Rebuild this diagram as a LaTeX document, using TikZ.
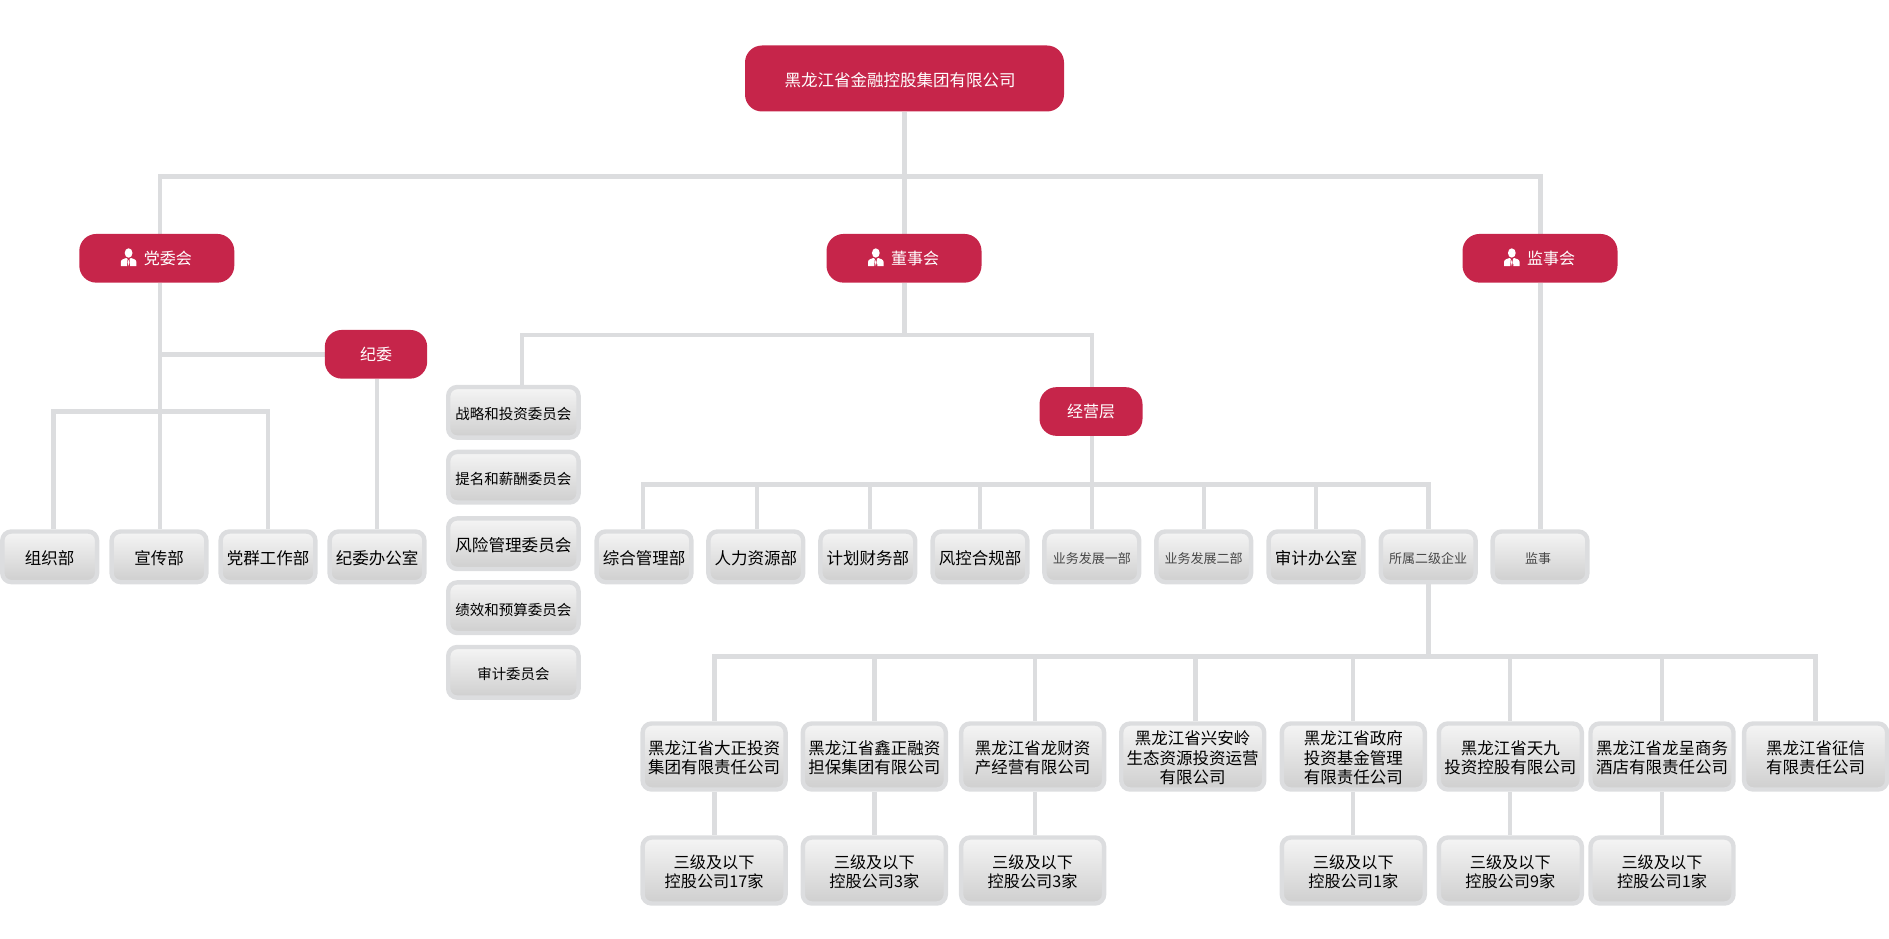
\documentclass[tikz,border=0pt]{standalone}
\usepackage{fontspec}
\setmainfont{Noto Sans CJK SC}
\usetikzlibrary{backgrounds}
\definecolor{redbox}{HTML}{C6254A}
\definecolor{linegray}{HTML}{DCDDDF}
\tikzset{
  x=1pt,y=-1pt,
  redbase/.style={fill=redbox,rounded corners=17pt,inner sep=0pt,text=white,font=\fontsize{16}{19.5}\selectfont,align=center,anchor=center},
  rootbox/.style={redbase,minimum width=319pt,minimum height=66pt,font=\fontsize{16.5}{19.5}\selectfont,text height=16pt,text depth=0pt},
  bigred/.style={redbase,minimum width=155pt,minimum height=48.7pt},
  smallred/.style={redbase,minimum width=102.4pt,minimum height=48.7pt},
  midred/.style={redbase,minimum width=103pt,minimum height=48.7pt},
  graybase/.style={draw=linegray,line width=4.4pt,top color=white!96!black,bottom color=white!81!black,rounded corners=9pt,inner sep=0pt,text=black,align=center,anchor=center,font=\fontsize{16.5}{19.5}\selectfont},
  deptbox/.style={graybase,minimum width=94.8pt,minimum height=50.6pt,text height=16pt,text depth=0pt},
  combox/.style={graybase,minimum width=130.4pt,minimum height=50.6pt,font=\fontsize{14.5}{18}\selectfont,text height=15pt,text depth=0pt},
  subbox/.style={graybase,minimum width=143pt,minimum height=66pt,font=\fontsize{16.5}{19.5}\selectfont},
  twolines/.style={text height=34.5pt,text depth=0pt},
  threelines/.style={text height=54pt,text depth=0pt},
  thirdbox/.style={subbox,twolines,font=\fontsize{16.2}{19.5}\selectfont},
  lite/.style={text=black!72,font=\fontsize{13}{16}\selectfont,text height=13pt,text depth=0pt},
  conn/.style={draw=linegray,line width=4.4pt},
  bus/.style={draw=linegray,line width=4.8pt,line cap=rect},
  person/.pic={\fill[white] (0,-5.3) ellipse (3.9 and 4.7);
    \fill[white] (-7.7,7.7) -- (-7.7,3.4) .. controls (-7.7,1) and (-4,0.4) .. (-2.4,-0.3) -- (-1,0.6) -- (-1.6,7.7) -- cycle;
    \fill[white] (7.7,7.7) -- (7.7,3.4) .. controls (7.7,1) and (4,0.4) .. (2.4,-0.3) -- (1,0.6) -- (1.6,7.7) -- cycle;
    \fill[white] (0,1.5) -- (0.9,4) -- (0,7.7) -- (-0.9,4) -- cycle;}
}
\begin{document}
\begin{tikzpicture}
\useasboundingbox (0,0) rectangle (1889,939);
% red nodes
\node[rootbox] (root) at (904.5,78.5) {\hspace*{-9pt}黑龙江省金融控股集团有限公司};
\node[bigred] (party) at (156.8,258.3) {\hspace*{22pt}党委会};
\node[bigred] (board) at (904,258.3) {\hspace*{22pt}董事会};
\node[bigred] (super) at (1540,258.3) {\hspace*{22pt}监事会};
\node[smallred] (disc) at (376,354.3) {纪委};
\node[midred] (mgmt) at (1091,411.5) {经营层};
\path (party.center) ++(-28.2,0) pic {person};
\path (board.center) ++(-28.2,0) pic {person};
\path (super.center) ++(-28.2,0) pic {person};
% row 1
\node[deptbox] (a1) at (49.7,556.8) {组织部};
\node[deptbox] (a2) at (159,556.8) {宣传部};
\node[deptbox] (a3) at (268,556.8) {党群工作部};
\node[deptbox] (a4) at (377,556.8) {纪委办公室};
% committees
\node[combox] (c1) at (513.4,412.3) {战略和投资委员会};
\node[combox] (c2) at (513.4,477.2) {提名和薪酬委员会};
\node[combox,font=\fontsize{16.6}{18}\selectfont,text height=16pt] (c3) at (513.4,543.7) {风险管理委员会};
\node[combox] (c4) at (513.4,607.7) {绩效和预算委员会};
\node[combox,font=\fontsize{14.4}{18}\selectfont] (c5) at (513.4,672.3) {审计委员会};
% departments
\node[deptbox] (d1) at (644,556.8) {综合管理部};
\node[deptbox] (d2) at (755.8,556.8) {人力资源部};
\node[deptbox] (d3) at (867.8,556.8) {计划财务部};
\node[deptbox] (d4) at (980,556.8) {风控合规部};
\node[deptbox,lite] (d5) at (1091.8,556.8) {业务发展一部};
\node[deptbox,lite] (d6) at (1203.7,556.8) {业务发展二部};
\node[deptbox] (d7) at (1316,556.8) {审计办公室};
\node[deptbox,lite] (d8) at (1428.2,556.8) {所属二级企业};
\node[deptbox,lite] (d9) at (1540,556.8) {\hspace*{-4pt}监事};
% subsidiaries
\node[subbox,twolines] (s1) at (714.1,756.5) {黑龙江省大正投资\\集团有限责任公司};
\node[subbox,twolines] (s2) at (874.3,756.5) {黑龙江省鑫正融资\\担保集团有限公司};
\node[subbox,twolines] (s3) at (1032.6,756.5) {黑龙江省龙财资\\产经营有限公司};
\node[subbox,threelines] (s4) at (1192.7,756.5) {黑龙江省兴安岭\\生态资源投资运营\\有限公司};
\node[subbox,threelines] (s5) at (1353.3,756.5) {黑龙江省政府\\投资基金管理\\有限责任公司};
\node[subbox,twolines] (s6) at (1510.3,756.5) {黑龙江省天九\\投资控股有限公司};
\node[subbox,twolines] (s7) at (1662,756.5) {黑龙江省龙呈商务\\酒店有限责任公司};
\node[subbox,twolines] (s8) at (1815.6,756.5) {黑龙江省征信\\有限责任公司};
% third level
\node[thirdbox] (t1) at (714.1,870.5) {三级及以下\\控股公司17家};
\node[thirdbox] (t2) at (874.3,870.5) {三级及以下\\控股公司3家};
\node[thirdbox] (t3) at (1032.6,870.5) {三级及以下\\控股公司3家};
\node[thirdbox] (t5) at (1353.3,870.5) {三级及以下\\控股公司1家};
\node[thirdbox] (t6) at (1510.3,870.5) {三级及以下\\控股公司9家};
\node[thirdbox] (t7) at (1662,870.5) {三级及以下\\控股公司1家};
% bus coordinates
\coordinate (topL) at (160,176.5);
\coordinate (topM) at (904.3,176.5);
\coordinate (topR) at (1540.4,176.5);
\coordinate (disJ) at (160,354.3);
\coordinate (partyL) at (53.3,411.7);
\coordinate (partyM) at (160,411.7);
\coordinate (partyR) at (267.7,411.7);
\coordinate (discD) at (376.8,354.3);
\coordinate (boardL) at (522,335);
\coordinate (boardM) at (904.3,335);
\coordinate (boardR) at (1091.8,335);
\coordinate (mgmtL) at (643.2,484.4);
\coordinate (mgmtR) at (1428.6,484.4);
\coordinate (e1) at (756.8,484.4);
\coordinate (e2) at (870,484.4);
\coordinate (e3) at (980,484.4);
\coordinate (e4) at (1091.8,484.4);
\coordinate (e5) at (1203.7,484.4);
\coordinate (e6) at (1316,484.4);
\coordinate (subL) at (714.3,656.5);
\coordinate (subR) at (1815.6,656.5);
\coordinate (f2) at (874.5,656.5);
\coordinate (f3) at (1034.7,656.5);
\coordinate (f4) at (1195.5,656.5);
\coordinate (f5) at (1353,656.5);
\coordinate (f6) at (1510,656.5);
\coordinate (f7) at (1662,656.5);
\coordinate (f0) at (1428.6,656.5);
\begin{scope}[on background layer]
\draw[bus] (topL) -- (topR);
\draw[bus] (partyL) -- (partyR);
\draw[bus] (boardL) -- (boardR);
\draw[bus] (mgmtL) -- (mgmtR);
\draw[bus] (subL) -- (subR);
\draw[conn] (topM) -- (topM |- root.south);
\draw[conn] (topL) -- (topL |- party.north);
\draw[conn] (topM) -- (topM |- board.north);
\draw[conn] (topR) -- (topR |- super.north);
\draw[conn] (partyM) -- (partyM |- party.south);
\draw[bus,line cap=butt] (disJ) -- (disc.west |- disJ);
\draw[conn] (partyL) -- (partyL |- a1.north);
\draw[conn] (partyM) -- (partyM |- a2.north);
\draw[conn] (partyR) -- (partyR |- a3.north);
\draw[conn] (discD |- disc.south) -- (discD |- a4.north);
\draw[conn] (boardM) -- (boardM |- board.south);
\draw[conn] (boardL) -- (boardL |- c1.north);
\draw[conn] (boardR) -- (boardR |- mgmt.north);
\draw[conn] (e4 |- mgmt.south) -- (e4 |- d5.north);
\draw[conn] (mgmtL) -- (mgmtL |- d1.north);
\draw[conn] (e1) -- (e1 |- d2.north);
\draw[conn] (e2) -- (e2 |- d3.north);
\draw[conn] (e3) -- (e3 |- d4.north);
\draw[conn] (e5) -- (e5 |- d6.north);
\draw[conn] (e6) -- (e6 |- d7.north);
\draw[conn] (mgmtR) -- (mgmtR |- d8.north);
\draw[conn] (topR |- super.south) -- (topR |- d9.north);
\draw[conn] (f0 |- d8.south) -- (f0);
\draw[conn] (subL) -- (subL |- s1.north);
\draw[conn] (f2) -- (f2 |- s2.north);
\draw[conn] (f3) -- (f3 |- s3.north);
\draw[conn] (f4) -- (f4 |- s4.north);
\draw[conn] (f5) -- (f5 |- s5.north);
\draw[conn] (f6) -- (f6 |- s6.north);
\draw[conn] (f7) -- (f7 |- s7.north);
\draw[conn] (subR) -- (subR |- s8.north);
\draw[conn] (subL |- s1.south) -- (subL |- t1.north);
\draw[conn] (f2 |- s2.south) -- (f2 |- t2.north);
\draw[conn] (f3 |- s3.south) -- (f3 |- t3.north);
\draw[conn] (f5 |- s5.south) -- (f5 |- t5.north);
\draw[conn] (f6 |- s6.south) -- (f6 |- t6.north);
\draw[conn] (f7 |- s7.south) -- (f7 |- t7.north);
\end{scope}
\end{tikzpicture}
\end{document}
